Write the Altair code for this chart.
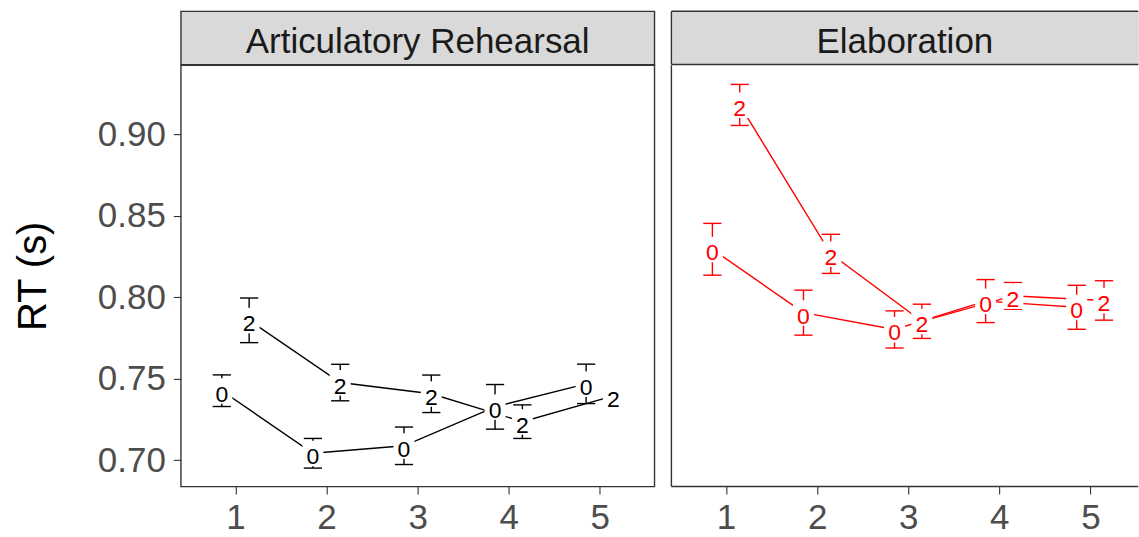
import altair as alt
import pandas as pd

FONT = "Liberation Sans"

# facet panels and x positions
panels = ["Articulatory Rehearsal", "Elaboration"]
panel_colors = ["#000000", "#FF0000"]
sessions = [1, 2, 3, 4, 5]
groups = ["0", "2"]

# mean RT (s) and standard error per session, group "0" and group "2"
ar_mean_0 = [0.7427, 0.7043, 0.7089, 0.7328, 0.7469]
ar_se_0 = [0.0097, 0.0091, 0.0115, 0.0137, 0.0121]
ar_mean_2 = [0.7859, 0.7477, 0.7408, 0.7237, 0.7395]
ar_se_2 = [0.0137, 0.0112, 0.0115, 0.0103, 0.0055]

el_mean_0 = [0.8295, 0.7906, 0.7803, 0.7977, 0.7939]
el_se_0 = [0.0159, 0.0138, 0.0114, 0.0132, 0.0135]
el_mean_2 = [0.9181, 0.8267, 0.7853, 0.8009, 0.7981]
el_se_2 = [0.0126, 0.0120, 0.0105, 0.0082, 0.0121]

y_ticks = [0.70, 0.75, 0.80, 0.85, 0.90]
y_domain = [0.6839, 0.9425]

PANEL_W = 474.0
RIGHT_W = 467.3
PLOT_H = 421.7
STRIP_H = 53.3
GAP = 15.0
DODGE = 0.15
CAP = 0.1
BORDER = "#333333"


def panel_frame(m0, s0, m2, s2):
    rows = []
    for g, means, ses in ((groups[0], m0, s0), (groups[1], m2, s2)):
        for s, m, e in zip(sessions, means, ses):
            rows.append({"session": s, "group": g, "rt": m, "se": e})
    return pd.DataFrame(rows)


def border_rules(w, h, top=True):
    one = alt.Chart(pd.DataFrame([{"k": 0}]))
    style = dict(color=BORDER, strokeWidth=1.4)
    layers = [
        one.mark_rule(**style).encode(x=alt.value(0), y=alt.value(0), y2=alt.value(h)),
        one.mark_rule(**style).encode(x=alt.value(0), x2=alt.value(w), y=alt.value(h)),
    ]
    if top:
        layers.append(one.mark_rule(**style).encode(x=alt.value(0), x2=alt.value(w), y=alt.value(0)))
    return layers


def strip(label, w, open_right):
    base = alt.Chart(pd.DataFrame({"panel": [label]}))
    txt = base.mark_text(
        font=FONT, fontSize=35, color="#1A1A1A", baseline="alphabetic", align="center"
    ).encode(x=alt.value(w / 2), y=alt.value(41.6), text="panel:N")
    if open_right:
        return alt.layer(txt, *border_rules(w, STRIP_H)).properties(
            width=w, height=STRIP_H,
            view=alt.ViewBackground(fill="#D9D9D9", strokeOpacity=0),
        )
    return txt.properties(
        width=w, height=STRIP_H,
        view=alt.ViewBackground(fill="#D9D9D9", stroke=BORDER, strokeWidth=1.4),
    )


def panel(df, color, w, show_y, open_right):
    x_max = 0.4 + w / (PANEL_W / 5.2)
    xs = alt.Scale(domain=[0.4, x_max], nice=False, zero=False)
    ys = alt.Scale(domain=y_domain, nice=False, zero=False)

    base = alt.Chart(df).transform_calculate(
        pos=f"datum.session + (datum.group == '0' ? -{DODGE} : {DODGE})",
        lo="datum.rt - datum.se",
        hi="datum.rt + datum.se",
    ).transform_calculate(
        capl=f"datum.pos - {CAP}",
        capr=f"datum.pos + {CAP}",
    )

    x_axis = alt.Axis(values=sessions, format="d", title="", domain=False, grid=False,
                      tickSize=7.5, labelPadding=7)
    if show_y:
        y_axis = alt.Axis(values=y_ticks, format=".2f", title="RT (s)", domain=False, grid=False,
                          tickSize=7.5, labelPadding=8, titlePadding=44)
    else:
        y_axis = None

    stem = base.mark_rule(color=color, strokeWidth=1.4).encode(
        x=alt.X("pos:Q", scale=xs, axis=x_axis),
        y=alt.Y("lo:Q", scale=ys, axis=y_axis),
        y2="hi:Q",
    )
    cap_lo = base.mark_rule(color=color, strokeWidth=1.4).encode(
        x=alt.X("capl:Q", scale=xs), x2="capr:Q", y=alt.Y("lo:Q", scale=ys)
    )
    cap_hi = base.mark_rule(color=color, strokeWidth=1.4).encode(
        x=alt.X("capl:Q", scale=xs), x2="capr:Q", y=alt.Y("hi:Q", scale=ys)
    )
    line = base.mark_line(color=color, strokeWidth=1.4).encode(
        x=alt.X("pos:Q", scale=xs),
        y=alt.Y("rt:Q", scale=ys),
        detail="group:N",
        order="session:Q",
    )
    box = base.mark_point(
        shape="M-1.05,-1.25H1.05V1.3H-1.05Z", size=400, filled=True,
        fill="white", opacity=1, strokeWidth=0,
    ).encode(x=alt.X("pos:Q", scale=xs), y=alt.Y("rt:Q", scale=ys))
    label = base.mark_text(
        font=FONT, fontSize=23, color=color, baseline="alphabetic", align="center", dy=11
    ).encode(x=alt.X("pos:Q", scale=xs), y=alt.Y("rt:Q", scale=ys), text="group:N")

    layers = [stem, cap_lo, cap_hi, line, box, label]
    if open_right:
        layers += border_rules(w, PLOT_H, top=False)
        return alt.layer(*layers).properties(
            width=w, height=PLOT_H, view=alt.ViewBackground(strokeOpacity=0)
        )
    return alt.layer(*layers).properties(
        width=w, height=PLOT_H,
        view=alt.ViewBackground(stroke=BORDER, strokeWidth=1.4),
    )


ar = panel_frame(ar_mean_0, ar_se_0, ar_mean_2, ar_se_2)
el = panel_frame(el_mean_0, el_se_0, el_mean_2, el_se_2)

left = alt.vconcat(
    strip(panels[0], PANEL_W, False),
    panel(ar, panel_colors[0], PANEL_W, True, False),
    spacing=0, bounds="flush",
)
right = alt.vconcat(
    strip(panels[1], RIGHT_W, True),
    panel(el, panel_colors[1], RIGHT_W, False, True),
    spacing=0, bounds="flush",
)

chart = alt.hconcat(left, right, spacing=GAP).resolve_scale(
    x="independent", y="independent"
).properties(
    padding={"left": 12, "top": 10, "right": 0, "bottom": 0},
    background="white",
).configure_axis(
    labelFont=FONT, labelFontSize=35, labelColor="#4D4D4D",
    tickColor=BORDER, tickWidth=1.1,
    titleFont=FONT, titleFontSize=40, titleColor="#000000", titleFontWeight="normal",
)

chart.save("out.html", embed_options={"renderer": "svg", "actions": False})
